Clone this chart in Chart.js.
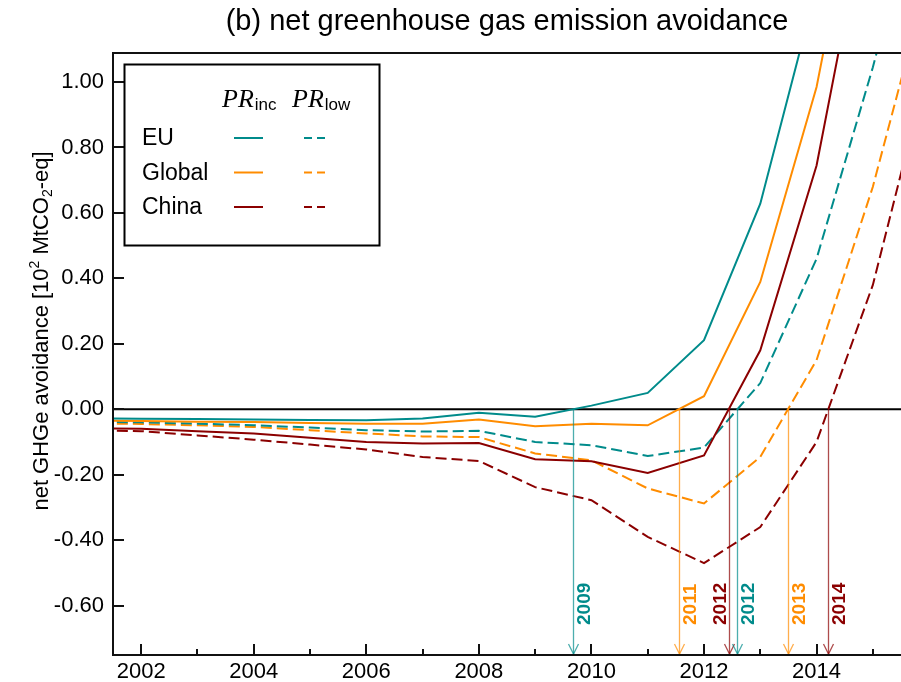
<!DOCTYPE html>
<html>
<head>
<meta charset="utf-8">
<script src="https://cdn.jsdelivr.net/npm/chart.js@4.4.1/dist/chart.umd.min.js"></script>
<style>
  html, body { margin: 0; padding: 0; background: #fff; }
  #wrap { width: 901px; height: 682px; }
</style>
</head>
<body>
<div id="wrap"><canvas id="chart" width="901" height="682"></canvas></div>
<script>
// values in 10^2 MtCO2-eq
const years = [2001, 2002, 2003, 2004, 2005, 2006, 2007, 2008, 2009, 2010, 2011, 2012, 2013, 2014, 2015, 2016];
const euInc     = [-0.028, -0.029, -0.030, -0.031, -0.033, -0.034, -0.028, -0.011, -0.023, 0.011, 0.050, 0.211, 0.628, 1.29, 2.00, 2.70];
const globalInc = [-0.035, -0.036, -0.038, -0.039, -0.042, -0.044, -0.044, -0.031, -0.052, -0.044, -0.049, 0.040, 0.389, 0.985, 1.86, 2.70];
const chinaInc  = [-0.057, -0.060, -0.067, -0.074, -0.087, -0.100, -0.105, -0.103, -0.153, -0.159, -0.195, -0.141, 0.180, 0.745, 1.63, 2.50];
const euLow     = [-0.038, -0.040, -0.044, -0.049, -0.056, -0.064, -0.068, -0.066, -0.100, -0.110, -0.143, -0.117, 0.080, 0.460, 1.045, 1.70];
const globalLow = [-0.043, -0.045, -0.049, -0.054, -0.064, -0.074, -0.083, -0.085, -0.135, -0.156, -0.242, -0.288, -0.146, 0.150, 0.680, 1.33];
const chinaLow  = [-0.064, -0.067, -0.080, -0.093, -0.108, -0.123, -0.146, -0.158, -0.238, -0.278, -0.390, -0.470, -0.360, -0.100, 0.380, 1.06];

const xTicks = [2002, 2004, 2006, 2008, 2010, 2012, 2014];
const xMinorTicks = [2003, 2005, 2007, 2009, 2011, 2013, 2015];
const yTicks = [-0.6, -0.4, -0.2, 0.0, 0.2, 0.4, 0.6, 0.8, 1.0];

const regions = ["EU", "Global", "China"];
const colors = ["#008b8b", "#ff8c00", "#8b0000"];
const incSeries = [euInc, globalInc, chinaInc];
const lowSeries = [euLow, globalLow, chinaLow];
// which side of the arrow the year label sits on (inc EU, Global, China, low EU, Global, China)
const labelSide = [1, 1, -1, 1, 1, 1];

const SANS = "'Liberation Sans', Arial, Helvetica, sans-serif";
const DASH = [11, 5];

const pts = vals => years.map((y, i) => ({x: y, y: vals[i]}));

const datasets = [];
incSeries.forEach((s, i) => datasets.push({
  label: regions[i] + " inc", data: pts(s), borderColor: colors[i], borderWidth: 2,
  pointRadius: 0, tension: 0, clip: 0
}));
lowSeries.forEach((s, i) => datasets.push({
  label: regions[i] + " low", data: pts(s), borderColor: colors[i], borderWidth: 2,
  borderDash: DASH, pointRadius: 0, tension: 0, clip: 0
}));

// first year where a series turns positive (linear between the yearly points)
function crossing(vals) {
  for (let i = 1; i < vals.length; i++) {
    if (vals[i - 1] < 0 && vals[i] >= 0) {
      return years[i - 1] + (0 - vals[i - 1]) / (vals[i] - vals[i - 1]) * (years[i] - years[i - 1]);
    }
  }
  return null;
}

const decorPlugin = {
  id: "decor",
  beforeDatasetsDraw(chart) {
    const {ctx, chartArea: a, scales: {y}} = chart;
    ctx.save();
    ctx.strokeStyle = "#000";
    ctx.lineWidth = 2;
    const y0 = y.getPixelForValue(0);
    ctx.beginPath(); ctx.moveTo(a.left, y0); ctx.lineTo(a.right, y0); ctx.stroke();
    ctx.restore();
  },
  afterDatasetsDraw(chart) {
    const {ctx, chartArea: a, scales: {x, y}} = chart;
    ctx.save();

    // zero-crossing arrows
    const all = incSeries.concat(lowSeries);
    const allColors = colors.concat(colors);
    all.forEach((s, i) => {
      const cx = crossing(s);
      if (cx === null) return;
      const px = Math.round(x.getPixelForValue(cx)) + 0.5;
      const y0 = y.getPixelForValue(0);
      ctx.strokeStyle = allColors[i];
      ctx.globalAlpha = 0.7;
      ctx.lineWidth = 1.3;
      ctx.beginPath(); ctx.moveTo(px, y0); ctx.lineTo(px, a.bottom); ctx.stroke();
      ctx.beginPath();
      ctx.moveTo(px - 5, a.bottom - 11); ctx.lineTo(px, a.bottom - 1); ctx.lineTo(px + 5, a.bottom - 11);
      ctx.stroke();
      ctx.globalAlpha = 1;
      ctx.save();
      ctx.translate(px + labelSide[i] * 10, 625);
      ctx.rotate(-Math.PI / 2);
      ctx.fillStyle = allColors[i];
      ctx.font = "bold 19px " + SANS;
      ctx.textAlign = "left";
      ctx.textBaseline = "middle";
      ctx.fillText(String(Math.floor(cx)), 0, 1);
      ctx.restore();
    });

    // axes frame
    ctx.strokeStyle = "#111";
    ctx.lineWidth = 2;
    ctx.beginPath();
    ctx.moveTo(a.right + 2, a.top); ctx.lineTo(a.left, a.top); ctx.lineTo(a.left, a.bottom); ctx.lineTo(a.right + 2, a.bottom);
    ctx.stroke();
    // inward tick marks
    ctx.beginPath();
    yTicks.forEach(v => {
      const p = Math.round(y.getPixelForValue(v));
      ctx.moveTo(a.left, p); ctx.lineTo(a.left + 11, p);
    });
    xTicks.forEach(v => {
      const p = Math.round(x.getPixelForValue(v));
      ctx.moveTo(p, a.bottom); ctx.lineTo(p, a.bottom - 11);
    });
    xMinorTicks.forEach(v => {
      const p = Math.round(x.getPixelForValue(v));
      ctx.moveTo(p, a.bottom); ctx.lineTo(p, a.bottom - 6);
    });
    ctx.stroke();

    // legend
    ctx.fillStyle = "#fff";
    ctx.fillRect(124, 64, 256, 181);
    ctx.strokeStyle = "#000";
    ctx.lineWidth = 2;
    ctx.strokeRect(124.5, 64.5, 255, 181);
    ctx.fillStyle = "#000";
    ctx.textBaseline = "alphabetic";
    ctx.textAlign = "left";
    [["inc", 222], ["low", 292]].forEach(([sub, hx]) => {
      ctx.font = "italic 26px 'Liberation Serif', 'DejaVu Serif', serif";
      ctx.fillText("PR", hx, 107);
      const w = ctx.measureText("PR").width;
      ctx.font = "17px " + SANS;
      ctx.fillText(sub, hx + w + 1, 110);
    });
    const rowBase = [145, 179.5, 214];
    regions.forEach((r, i) => {
      ctx.font = "23px " + SANS;
      ctx.fillStyle = "#000";
      ctx.fillText(r, 142, rowBase[i]);
      const ly = rowBase[i] - 7;
      ctx.strokeStyle = colors[i];
      ctx.lineWidth = 2;
      ctx.setLineDash([]);
      ctx.beginPath(); ctx.moveTo(234, ly); ctx.lineTo(263, ly); ctx.stroke();
      ctx.setLineDash([8, 5]);
      ctx.beginPath(); ctx.moveTo(304, ly); ctx.lineTo(330, ly); ctx.stroke();
      ctx.setLineDash([]);
    });

    // title
    ctx.fillStyle = "#000";
    ctx.font = "29px " + SANS;
    ctx.textAlign = "center";
    ctx.fillText("(b) net greenhouse gas emission avoidance", (a.left + a.right) / 2, 30);

    // y-axis title with super/subscript
    ctx.save();
    ctx.translate(48, 331);
    ctx.rotate(-Math.PI / 2);
    const parts = [
      ["net GHGe avoidance [10", 22, 0],
      ["2", 14, -9],
      [" MtCO", 22, 0],
      ["2", 14, 4],
      ["-eq]", 22, 0]
    ];
    let total = 0;
    parts.forEach(([t, s]) => { ctx.font = s + "px " + SANS; total += ctx.measureText(t).width; });
    let cx = -total / 2;
    ctx.textAlign = "left";
    parts.forEach(([t, s, dy]) => {
      ctx.font = s + "px " + SANS;
      ctx.fillText(t, cx, dy);
      cx += ctx.measureText(t).width;
    });
    ctx.restore();

    ctx.restore();
  }
};

new Chart(document.getElementById("chart"), {
  type: "line",
  data: {datasets},
  options: {
    responsive: false,
    animation: false,
    devicePixelRatio: 1,
    layout: {padding: {left: 0, top: 53, right: 0, bottom: 0}},
    plugins: {legend: {display: false}, tooltip: {enabled: false}, title: {display: false}},
    scales: {
      x: {
        type: "linear", min: 2001.5, max: 2015.5,
        afterBuildTicks: s => { s.ticks = xTicks.map(v => ({value: v})); },
        afterFit: s => { s.height = 27; },
        grid: {display: false, drawTicks: false},
        border: {display: false},
        ticks: {color: "#000", font: {size: 22, family: SANS}, padding: 4, maxRotation: 0, autoSkip: false,
                callback: v => String(v)}
      },
      y: {
        type: "linear", min: -0.751, max: 1.0886,
        afterBuildTicks: s => { s.ticks = yTicks.map(v => ({value: v})); },
        afterFit: s => { s.width = 113; },
        grid: {display: false, drawTicks: false},
        border: {display: false},
        ticks: {color: "#000", font: {size: 22, family: SANS}, padding: 9,
                callback: v => v.toFixed(2)}
      }
    }
  },
  plugins: [decorPlugin]
});
</script>
</body>
</html>
